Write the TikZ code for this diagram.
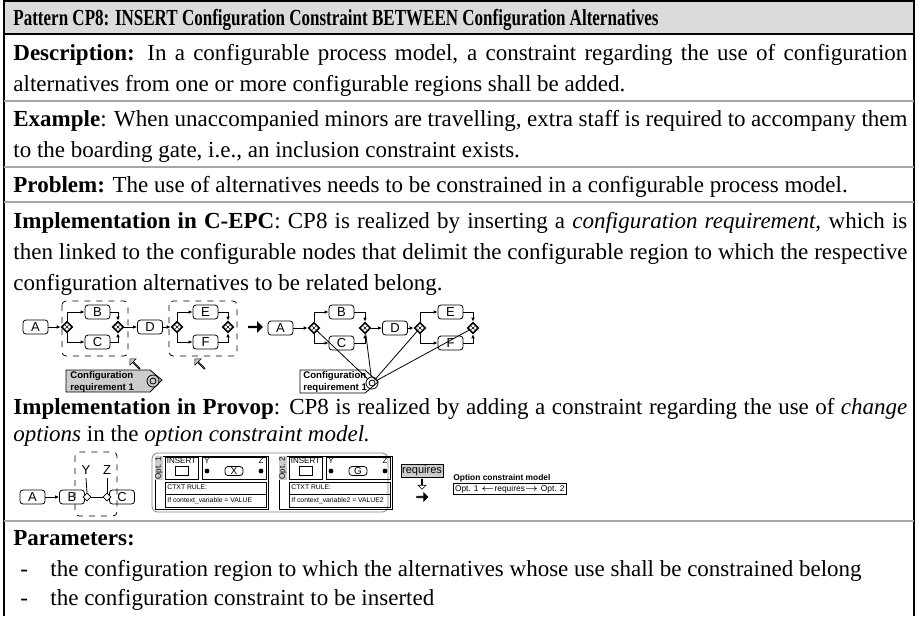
\documentclass[tikz,border=0pt]{standalone}
\usepackage{fontspec}
\setmainfont{Liberation Serif}
\setsansfont{Liberation Sans}
\usetikzlibrary{arrows.meta,shapes.geometric,shapes.arrows,calc}
\begin{document}
\begin{tikzpicture}[x=0.5pt,y=-0.5pt,
  tx/.style={anchor=base west,inner sep=0pt,font=\fontsize{11.5}{13}\selectfont},
  pbox/.style={draw,line width=0.4pt,rounded corners=1.5pt,minimum width=12.5pt,minimum height=7pt,inner sep=0pt,font=\sffamily\fontsize{6.5}{6.5}\selectfont},
  cgw/.style={diamond,draw,line width=0.8pt,fill=white,minimum width=5.5pt,minimum height=5.5pt,inner sep=0pt,
    path picture={\draw[line width=0.3pt] (path picture bounding box.center) ++(-0.8pt,-0.8pt) -- ++(1.6pt,1.6pt)
      (path picture bounding box.center) ++(-0.8pt,0.8pt) -- ++(1.6pt,-1.6pt);}},
  arr/.style={line width=0.4pt,-{Latex[length=2pt,width=1.8pt]}},
  ln/.style={line width=0.4pt},
  sepl/.style={draw=gray!70,line width=0.6pt},
  creq/.style={font=\sffamily\bfseries\fontsize{4.8}{6}\selectfont,align=left,inner sep=0pt,anchor=north west},
  tiny/.style={font=\sffamily\fontsize{4}{4.5}\selectfont,inner sep=0pt},
  tinier/.style={font=\sffamily\fontsize{3.4}{4}\selectfont,inner sep=0pt},
  bigarrow/.style={single arrow,fill=black,draw=black,minimum height=7pt,minimum width=5pt,single arrow head extend=1pt,inner sep=0pt},
  grayarrow/.style={single arrow,fill=gray!45,draw=black,line width=0.3pt,minimum height=7pt,minimum width=4.5pt,single arrow head extend=1pt,inner sep=0pt},
]
\useasboundingbox (0,0) rectangle (920,616);
% frame and title
\fill[gray!28] (4,1) rectangle (914,34);
\draw[line width=1pt] (4,616) -- (4,1) -- (914,1) -- (914,616);
\draw[line width=0.8pt] (4,34) -- (914,34);
\node[anchor=base west,inner sep=0pt,font=\bfseries\fontsize{11.5}{12}\selectfont] (title) at (13,25)
  {\scalebox{0.74}[1]{Pattern CP8: INSERT Configuration Constraint BETWEEN Configuration Alternatives}};
% text rows
\node[tx] (desc1) at (13,60) {\makebox[447pt][s]{\textbf{Description:} In a configurable process model, a constraint regarding the use of configuration}};
\node[tx] (desc2) at (13,91) {alternatives from one or more configurable regions shall be added.};
\draw[sepl] (4,101) -- (914,101);
\node[tx] (ex1) at (13,126) {\makebox[447pt][s]{\textbf{Example}: When unaccompanied minors are travelling, extra staff is required to accompany them}};
\node[tx] (ex2) at (13,157) {to the boarding gate, i.e., an inclusion constraint exists.};
\draw[sepl] (4,167) -- (914,167);
\node[tx] (prob) at (13,192) {\textbf{Problem:} The use of alternatives needs to be constrained in a configurable process model.};
\draw[sepl] (4,202) -- (914,202);
\node[tx] (im1) at (13,228) {\makebox[447pt][s]{\textbf{Implementation in C-EPC}: CP8 is realized by inserting a \textit{configuration requirement,} which is}};
\node[tx] (im2) at (13,259) {\makebox[447pt][s]{then linked to the configurable nodes that delimit the configurable region to which the respective}};
\node[tx] (im3) at (13,290) {configuration alternatives to be related belong.};
% ---------- C-EPC left
\node[pbox] (a1) at (35.5,327) {A};
\node[cgw] (s1) at (67,327) {};
\node[pbox] (b1) at (97.5,312) {B};
\node[pbox] (c1) at (97.5,342) {C};
\node[cgw] (j1) at (118,327) {};
\node[pbox] (d1) at (150,327) {D};
\node[cgw] (s2) at (177,327) {};
\node[pbox] (e1) at (205.5,312) {E};
\node[pbox] (f1) at (205.5,342) {F};
\node[cgw] (j2) at (228,327) {};
\draw[arr] (a1) -- (s1);
\draw[arr] (s1.north) |- (b1);
\draw[arr] (s1.south) |- (c1);
\draw[arr] (b1) -| (j1);
\draw[arr] (c1) -| (j1);
\draw[arr] (j1) -- (d1);
\draw[arr] (d1) -- (s2);
\draw[arr] (s2.north) |- (e1);
\draw[arr] (s2.south) |- (f1);
\draw[arr] (e1) -| (j2);
\draw[arr] (f1) -| (j2);
\draw[ln,dashed,rounded corners=2pt] (62,301) rectangle (128,356);
\draw[ln,dashed,rounded corners=2pt] (169,301) rectangle (237,356);
\node[grayarrow,rotate=135] (ga1) at (135,364) {};
\node[grayarrow,rotate=135] (ga2) at (200,364) {};
\draw[ln,fill=gray!40] (66,370) -- (150,370) -- (162,380) -- (150,392) -- (66,392) -- cycle;
\node[creq] (cr1) at (70,371) {Configuration\\requirement 1};
\draw[ln] (153,381) circle (3pt);
\draw[ln] (153,381) circle (1.5pt);
% arrow
\node[bigarrow] (big1) at (255,327) {};
% ---------- C-EPC right
\node[pbox] (a2) at (280.5,328) {A};
\node[cgw] (s3) at (314,328) {};
\node[pbox] (b2) at (341.5,312) {B};
\node[pbox] (c2) at (341.5,343) {C};
\node[cgw] (j3) at (365,328) {};
\node[pbox] (d2) at (395,328) {D};
\node[cgw] (s4) at (420,328) {};
\node[pbox] (e2) at (450.5,312) {E};
\node[pbox] (f2) at (450.5,343) {F};
\node[cgw] (j4) at (473,328) {};
\draw[arr] (a2) -- (s3);
\draw[arr] (s3.north) |- (b2);
\draw[arr] (s3.south) |- (c2);
\draw[arr] (b2) -| (j3);
\draw[arr] (c2) -| (j3);
\draw[arr] (j3) -- (d2);
\draw[arr] (d2) -- (s4);
\draw[arr] (s4.north) |- (e2);
\draw[arr] (s4.south) |- (f2);
\draw[arr] (e2) -| (j4);
\draw[arr] (f2) -| (j4);
\draw[ln,fill=white] (300,370) -- (365,370) -- (378,382) -- (365,393) -- (300,393) -- cycle;
\node[creq] (cr2) at (303,371) {Configuration\\requirement 1};
\node[circle,draw,line width=0.4pt,minimum size=6pt,inner sep=0pt] (rc) at (372,383) {};
\draw[ln] (rc) circle (1.5pt);
\foreach \g in {s3,j3,s4,j4} \draw[ln] (rc) -- (\g);
% ---------- Provop text
\node[tx] (pv1) at (13,414) {\makebox[447pt][s]{\textbf{Implementation in Provop}: CP8 is realized by adding a constraint regarding the use of \textit{change}}};
\node[tx] (pv2) at (13,441) {\textit{options} in the \textit{option constraint model.}};
% ---------- Provop diagram
\node[pbox] (pa) at (32.5,497) {A};
\node[pbox] (pb) at (72,497) {B};
\node[pbox] (pc) at (122,497) {C};
\node[diamond,draw,fill=white,line width=0.4pt,minimum size=4pt,inner sep=0pt] (py) at (87,497) {};
\node[diamond,draw,fill=white,line width=0.4pt,minimum size=4pt,inner sep=0pt] (pz) at (107,497) {};
\draw[arr] (pa) -- (pb);
\draw[ln] (py) -- (pz);
\node[font=\sffamily\fontsize{6.5}{6.5}\selectfont,inner sep=0pt] (ly) at (86,470) {Y};
\node[font=\sffamily\fontsize{6.5}{6.5}\selectfont,inner sep=0pt] (lz) at (107,470) {Z};
\draw[ln] (ly.south) ++(0,3) -- (py.north);
\draw[ln] (lz.south) ++(0,3) -- (pz.north);
\draw[ln,dashed,rounded corners=2pt] (75,452) rectangle (117,516);
% option box
\draw[ln,rounded corners=3pt,draw=gray] (152,453) rectangle (388,512);
\foreach \ox/\lab/\frag/\ctx in {155/1/X/{If context\_variable = VALUE},279/2/G/{If context\_variable2 = VALUE2}}{
  \draw[ln] (\ox,456) rectangle ++(113,53);
  \fill[gray!40] (\ox,456) rectangle ++(8,24);
  \node[tiny,rotate=90] at (\ox+4,468) {Opt. \lab};
  \draw[ln] (\ox+10,457) rectangle ++(33,22);
  \node[tiny,anchor=north] at (\ox+26.5,458) {INSERT};
  \draw[ln] (\ox+20,466) rectangle ++(13,9);
  \draw[ln] (\ox+47,457) rectangle ++(64,22);
  \node[tiny,anchor=north west] at (\ox+49,458) {Y};
  \node[tiny,anchor=north east] at (\ox+109,458) {Z};
  \fill (\ox+52,471) circle (1.2pt);
  \fill (\ox+106,471) circle (1.2pt);
  \node[draw,line width=0.4pt,rounded corners=1.5pt,minimum width=9pt,minimum height=4.5pt,inner sep=0pt,font=\sffamily\fontsize{5}{5}\selectfont] at (\ox+79,471) {\frag};
  \draw[ln] (\ox+10,482) rectangle ++(101,25);
  \node[tinier,anchor=north west] at (\ox+12,484) {CTXT RULE:};
  \draw[ln] (\ox+10,494) -- ++(101,0);
  \node[tinier,anchor=north west] at (\ox+12,497) {\ctx};
}
% requires
\node[draw,fill=gray!40,line width=0.4pt,inner sep=0.6pt,font=\sffamily\fontsize{5.5}{5.5}\selectfont] (req) at (422,471) {requires};
\node[single arrow,draw,fill=white,line width=0.3pt,rotate=-90,minimum height=5pt,minimum width=4pt,single arrow head extend=1pt,inner sep=0pt] (dn) at (422,484) {};
\node[bigarrow,minimum height=5.5pt,minimum width=4pt] (big2) at (422,497) {};
\node[anchor=west,inner sep=0pt,font=\sffamily\bfseries\fontsize{4.2}{5}\selectfont] (ocm) at (453,478) {Option constraint model};
\node[draw,line width=0.4pt,anchor=west,inner sep=0.8pt,font=\sffamily\fontsize{4.2}{5}\selectfont] (ocb) at (453,489) {Opt. 1 $\leftarrow$requires$\rightarrow$ Opt. 2};
% parameters
\draw[sepl] (4,521) -- (914,521);
\node[tx] (par) at (13,545) {\textbf{Parameters:}};
\node[tx] (i1d) at (20,576) {-};
\node[tx] (i1) at (50,576) {the configuration region to which the alternatives whose use shall be constrained belong};
\node[tx] (i2d) at (20,605) {-};
\node[tx] (i2) at (50,605) {the configuration constraint to be inserted};
\end{tikzpicture}
\end{document}
